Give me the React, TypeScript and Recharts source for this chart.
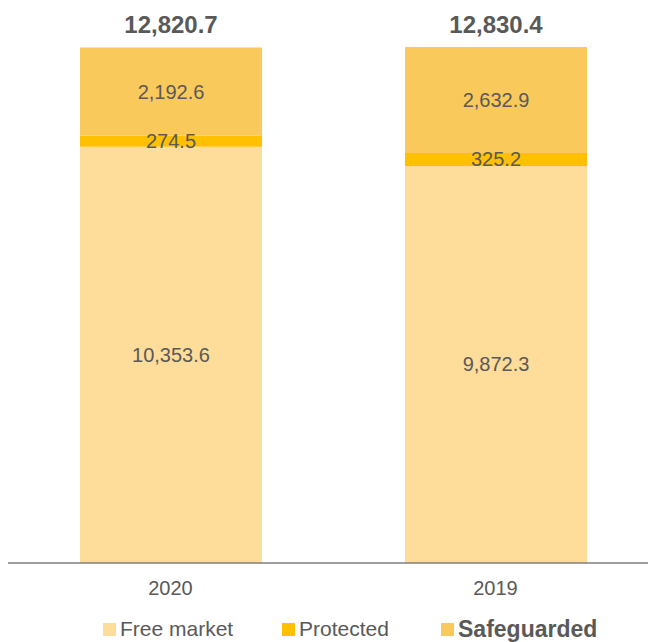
import React from "react";
import { BarChart, Bar, XAxis, YAxis, LabelList } from "recharts";

const categories = ["2020", "2019"];
const freeMarket = [10353.6, 9872.3];
const protectedVals = [274.5, 325.2];
const safeguarded = [2192.6, 2632.9];
const totals = [12820.7, 12830.4];

const seriesNames = ["Free market", "Protected", "Safeguarded"];
const seriesColors = ["#FEDC9A", "#FFC000", "#FAC95C"];

const data = categories.map((c, i) => ({
  name: c,
  free: freeMarket[i],
  prot: protectedVals[i],
  safe: safeguarded[i],
  total: totals[i],
}));

const fmt = (v: number) =>
  v.toLocaleString("en-US", { minimumFractionDigits: 1, maximumFractionDigits: 1 });

const FONT = "'Liberation Sans', Arial, sans-serif";
const TXT = "#595959";

const centerLabel = (props: any) => {
  const { x, y, width, height, value } = props;
  return (
    <text
      x={x + width / 2}
      y={y + height / 2}
      textAnchor="middle"
      dominantBaseline="central"
      fontFamily={FONT}
      fontSize={20}
      fill={TXT}
    >
      {fmt(value)}
    </text>
  );
};

const totalLabel = (props: any) => {
  const { x, y, width, index } = props;
  return (
    <text
      x={x + width / 2}
      y={y - 23}
      textAnchor="middle"
      dominantBaseline="central"
      fontFamily={FONT}
      fontSize={24}
      fontWeight="bold"
      fill={TXT}
    >
      {fmt(totals[index])}
    </text>
  );
};

const legendItems = [
  { left: 103, size: 21, weight: "normal" },
  { left: 282, size: 21, weight: "normal" },
  { left: 441, size: 23, weight: "bold" },
];

export default function App() {
  return (
    <div
      style={{
        position: "absolute",
        left: 0,
        top: 0,
        width: 648,
        height: 642,
        overflow: "hidden",
        background: "#fff",
      }}
    >
      <BarChart
        width={660}
        height={642}
        data={data}
        margin={{ top: 0, right: 2, bottom: 49, left: 8 }}
      >
        <YAxis hide domain={[0, 14000]} />
        <XAxis
          dataKey="name"
          axisLine={{ stroke: "#7F7F7F", strokeWidth: 1.5 }}
          tickLine={false}
          tickMargin={12}
          tick={{ fontFamily: FONT, fontSize: 20, fill: TXT }}
        />
        <Bar dataKey="free" stackId="a" fill={seriesColors[0]} barSize={182} isAnimationActive={false}>
          <LabelList dataKey="free" content={centerLabel} />
        </Bar>
        <Bar dataKey="prot" stackId="a" fill={seriesColors[1]} barSize={182} isAnimationActive={false}>
          <LabelList dataKey="prot" content={centerLabel} />
        </Bar>
        <Bar dataKey="safe" stackId="a" fill={seriesColors[2]} barSize={182} isAnimationActive={false}>
          <LabelList dataKey="safe" content={centerLabel} />
          <LabelList dataKey="total" content={totalLabel} />
        </Bar>
      </BarChart>
      {seriesNames.map((n, i) => (
        <div
          key={n}
          style={{
            position: "absolute",
            left: legendItems[i].left,
            top: 616,
            height: 26,
            display: "flex",
            alignItems: "center",
            fontFamily: FONT,
            fontSize: legendItems[i].size,
            fontWeight: legendItems[i].weight as any,
            color: TXT,
            whiteSpace: "nowrap",
          }}
        >
          <span
            style={{
              display: "inline-block",
              width: 13,
              height: 13,
              background: seriesColors[i],
              marginRight: 4,
            }}
          />
          {n}
        </div>
      ))}
    </div>
  );
}
